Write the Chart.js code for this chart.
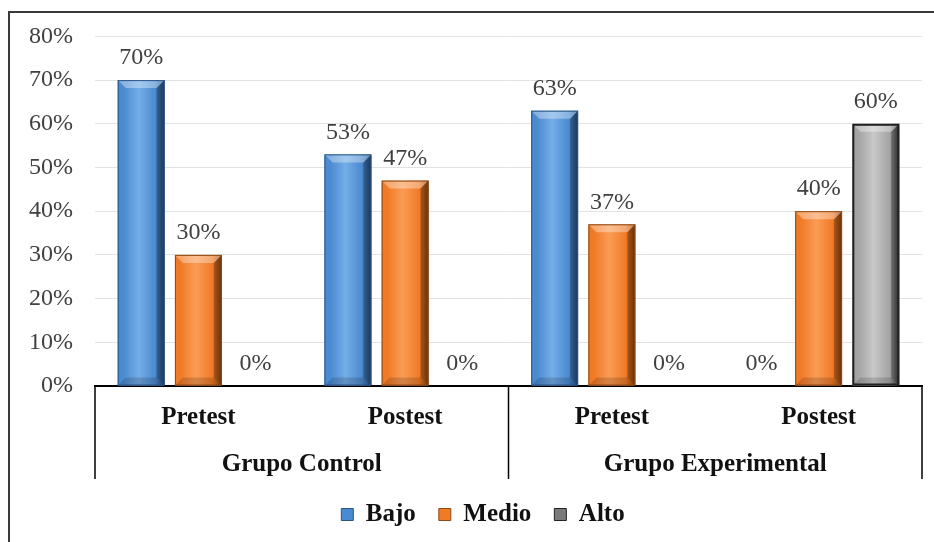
<!DOCTYPE html>
<html>
<head>
<meta charset="utf-8">
<script src="https://cdn.jsdelivr.net/npm/chart.js@4.4.1/dist/chart.umd.min.js"></script>
<style>
  html, body { margin: 0; padding: 0; background: #fff; overflow: hidden; }
  #frame { position: absolute; left: 8px; top: 11px; width: 1000px; height: 600px; border: 2px solid #3a3a3a; }
  #wrap { position: absolute; left: 0; top: 0; width: 934px; height: 542px; }
</style>
</head>
<body>
<div id="frame"></div>
<div id="wrap"><canvas id="myChart" width="934" height="542"></canvas></div>
<script>
const categories = ['Pretest', 'Postest', 'Pretest', 'Postest'];
const groups = ['Grupo Control', 'Grupo Experimental'];
const bajo = [70, 53, 63, 0];
const medio = [30, 47, 37, 40];
const alto = [0, 0, 0, 60];
const yTicks = [0, 10, 20, 30, 40, 50, 60, 70, 80];

const FONT = "'Liberation Serif', 'Times New Roman', serif";

// base / light / dark shades for the bevelled bars
const shades = [
    { base: '#4a8ad0', light: '#74ade8', dark: '#24497a', border: '#2a5689', bw: 1 },
    { base: '#f07a26', light: '#fb9c55', dark: '#8a420f', border: '#8f4a16', bw: 1 },
    { base: '#a3a3a3', light: '#c8c8c8', dark: '#3a3a3a', border: '#222222', bw: 2 },
];

const bevelBars = {
    id: 'bevelBars',
    afterDatasetsDraw(chart) {
        const c = chart.ctx;
        chart.data.datasets.forEach((ds, i) => {
            const s = shades[i];
            chart.getDatasetMeta(i).data.forEach(el => {
                const l = el.x - el.width / 2, r = el.x + el.width / 2;
                const t = Math.min(el.y, el.base), b = Math.max(el.y, el.base);
                if (b - t < 1) return;
                c.save();
                const g = c.createLinearGradient(l, 0, r, 0);
                g.addColorStop(0, s.base);
                g.addColorStop(0.12, s.base);
                g.addColorStop(0.45, s.light);
                g.addColorStop(0.8, s.base);
                g.addColorStop(1, s.dark);
                c.fillStyle = g;
                c.fillRect(l, t, r - l, b - t);
                const bv = Math.min(8, (b - t) / 2);
                // top bevel
                c.beginPath();
                c.moveTo(l, t); c.lineTo(r, t); c.lineTo(r - bv, t + bv); c.lineTo(l + bv, t + bv); c.closePath();
                c.fillStyle = 'rgba(255,255,255,0.35)';
                c.fill();
                // right bevel
                c.beginPath();
                c.moveTo(r, t); c.lineTo(r, b); c.lineTo(r - bv, b - bv); c.lineTo(r - bv, t + bv); c.closePath();
                c.fillStyle = 'rgba(0,0,0,0.25)';
                c.fill();
                // bottom bevel
                c.beginPath();
                c.moveTo(l, b); c.lineTo(r, b); c.lineTo(r - bv, b - bv); c.lineTo(l + bv, b - bv); c.closePath();
                c.fillStyle = 'rgba(0,0,0,0.15)';
                c.fill();
                c.strokeStyle = s.border;
                c.lineWidth = s.bw;
                c.strokeRect(l + s.bw / 2, t + s.bw / 2, r - l - s.bw, b - t - s.bw);
                c.restore();
            });
        });
        // value labels
        c.save();
        c.font = '24px ' + FONT;
        c.fillStyle = '#404040';
        c.textAlign = 'center';
        c.textBaseline = 'middle';
        chart.data.datasets.forEach((ds, i) => {
            chart.getDatasetMeta(i).data.forEach((el, j) => {
                c.fillText(ds.data[j] + '%', el.x, el.y - 22);
            });
        });
        c.restore();
    }
};

// vertical separators of the two-level category axis
const separators = {
    id: 'separators',
    afterLayout(chart) {
        // nudge the legend a little to the right, as in the original
        chart.legend.left += 22;
        chart.legend.right += 22;
    },
    afterDraw(chart) {
        const x = chart.scales.x, x2 = chart.scales.x2;
        const c = chart.ctx;
        const mid = (x.getPixelForValue(1) + x.getPixelForValue(2)) / 2;
        c.save();
        c.strokeStyle = '#000';
        c.lineWidth = 1.5;
        [x.left, mid, x.right].forEach(px => {
            c.beginPath();
            c.moveTo(px, chart.chartArea.bottom);
            c.lineTo(px, x2.bottom);
            c.stroke();
        });
        c.restore();
    }
};

new Chart(document.querySelector('#myChart'), {
    type: 'bar',
    data: {
        labels: categories,
        datasets: [
            { label: 'Bajo', data: bajo, backgroundColor: shades[0].base, borderColor: shades[0].border, borderWidth: 1 },
            { label: 'Medio', data: medio, backgroundColor: shades[1].base, borderColor: shades[1].border, borderWidth: 1 },
            { label: 'Alto', data: alto, backgroundColor: '#7a7a7a', borderColor: '#222', borderWidth: 1 },
        ]
    },
    options: {
        responsive: false,
        animation: false,
        categoryPercentage: 0.83,
        barPercentage: 0.82,
        layout: { padding: { top: 36, right: 12, left: 0, bottom: 5 } },
        scales: {
            y: {
                min: 0,
                max: 80,
                afterBuildTicks(s) { s.ticks = yTicks.map(v => ({ value: v })); },
                afterFit(s) { s.width = 95; },
                border: { display: false },
                grid: { color: '#e2e2e2', drawTicks: false },
                ticks: {
                    padding: 22,
                    color: '#404040',
                    font: { family: FONT, size: 24 },
                    callback: v => v + '%'
                }
            },
            x: {
                afterFit(s) { s.height = 50; },
                border: { display: true, color: '#000', width: 2 },
                grid: { display: false },
                ticks: {
                    padding: 9,
                    color: '#111',
                    font: { family: FONT, size: 25, weight: 'bold' }
                }
            },
            x2: {
                type: 'category',
                labels: groups,
                position: 'bottom',
                offset: true,
                afterFit(s) { s.height = 43; },
                border: { display: false },
                grid: { display: false },
                ticks: {
                    padding: 6,
                    color: '#111',
                    font: { family: FONT, size: 25, weight: 'bold' }
                }
            }
        },
        plugins: {
            legend: {
                position: 'bottom',
                labels: {
                    boxWidth: 12,
                    boxHeight: 12,
                    padding: 23,
                    color: '#111',
                    font: { family: FONT, size: 25, weight: 'bold' }
                }
            },
            tooltip: { enabled: false }
        }
    },
    plugins: [bevelBars, separators]
});
</script>
</body>
</html>
